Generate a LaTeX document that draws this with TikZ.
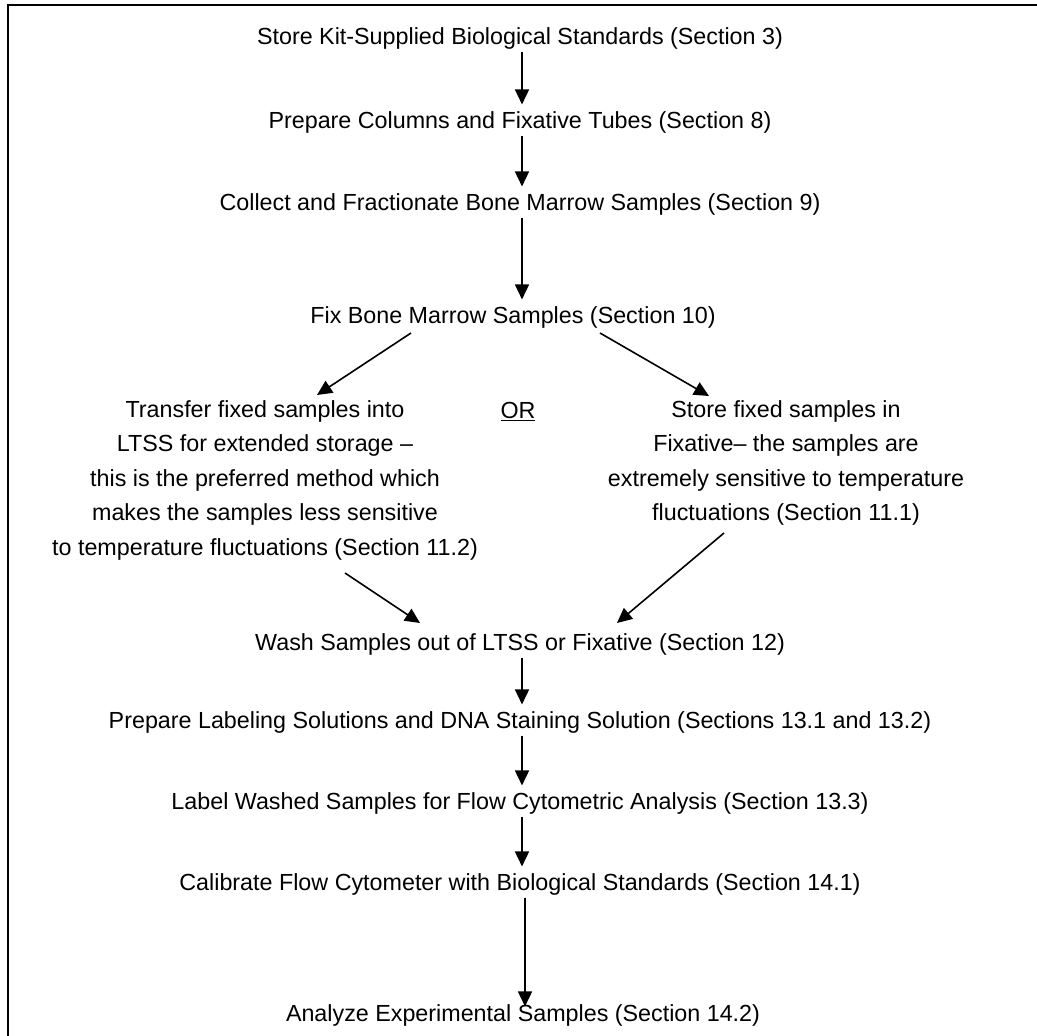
\documentclass[tikz,border=0pt]{standalone}
\usepackage{fontspec}
\setmainfont{Liberation Sans}
\usetikzlibrary{arrows.meta}
\begin{document}
\begin{tikzpicture}[x=1pt,y=-1pt,
  lbl/.style={font=\fontsize{23.3}{34.6}\selectfont, inner xsep=0pt, inner ysep=7pt, text height=16.7pt, text depth=0pt, anchor=center},
  blk/.style={font=\fontsize{23.3}{34.6}\selectfont, align=center, inner sep=0pt, anchor=north},
  arr/.style={line width=1.6pt, -{Triangle[length=15pt,width=14pt]}},
  frame/.style={line width=2.2pt}]
\useasboundingbox (0,0) rectangle (1037,1036);
\draw[frame] (8,1040) -- (8,5) -- (1040,5);

\coordinate (col) at (522,0);
\coordinate (colb) at (525,0);

\node[lbl] (s3)  at (520,36)  {Store Kit-Supplied Biological Standards (Section 3)};
\node[lbl] (s8)  at (520,120) {Prepare Columns and Fixative Tubes (Section 8)};
\node[lbl] (s9)  at (520,202) {Collect and Fractionate Bone Marrow Samples (Section 9)};
\node[lbl] (s10) at (513,315) {Fix Bone Marrow Samples (Section 10)};
\node[blk] (l112) at (265,400) {Transfer fixed samples into\\LTSS for extended storage --\\this is the preferred method which\\makes the samples less sensitive\\to temperature fluctuations (Section 11.2)};
\node[lbl] (or)  at (518,410) {\underline{OR}};
\node[blk] (r111) at (786,400) {Store fixed samples in\\Fixative-- the samples are\\extremely sensitive to temperature\\fluctuations (Section 11.1)};
\node[lbl] (s12) at (520,642) {Wash Samples out of LTSS or Fixative (Section 12)};
\node[lbl] (s13a) at (520,720) {Prepare Labeling Solutions and DNA Staining Solution (Sections 13.1 and 13.2)};
\node[lbl] (s133) at (520,801) {Label Washed Samples for Flow Cytometric Analysis (Section 13.3)};
\node[lbl] (s141) at (520,882) {Calibrate Flow Cytometer with Biological Standards (Section 14.1)};
\node[lbl] (s142) at (523,1013) {Analyze Experimental Samples (Section 14.2)};

\coordinate (fl) at (411,333);
\coordinate (fr) at (600,333);
\coordinate (tl) at (317,395);
\coordinate (tr) at (709,396);
\coordinate (bl) at (345,573);
\coordinate (br) at (724,533);
\coordinate (wl) at (420,623);
\coordinate (wr) at (617,623);

\draw[arr] (s3.south -| col) -- (s8.north -| col);
\draw[arr] (s8.south -| col) -- (s9.north -| col);
\draw[arr] (s9.south -| col) -- (s10.north -| col);
\draw[arr] (fl) -- (tl);
\draw[arr] (fr) -- (tr);
\draw[arr] (bl) -- (wl);
\draw[arr] (br) -- (wr);
\draw[arr] (s12.south -| col) -- (s13a.north -| col);
\draw[arr] (s13a.south -| col) -- (s133.north -| col);
\draw[arr] (s133.south -| col) -- (s141.north -| col);
\draw[arr, shorten >=-9pt] (s141.south -| colb) -- (s142.north -| colb);
\end{tikzpicture}
\end{document}
